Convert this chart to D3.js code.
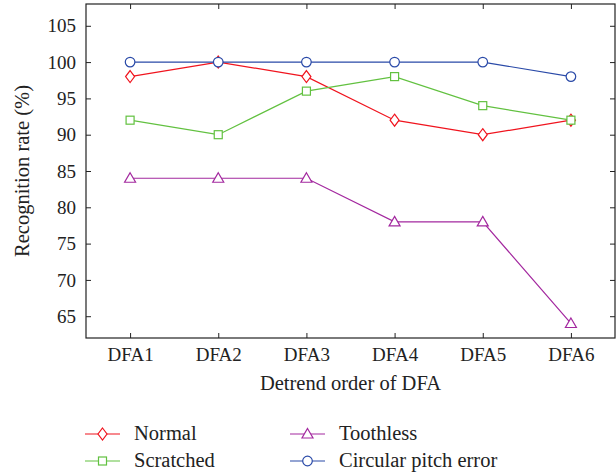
<!DOCTYPE html>
<html>
<head>
<meta charset="utf-8">
<script src="https://cdn.jsdelivr.net/npm/d3@7"></script>
<style>
  body { margin: 0; background: #fff; }
  text { font-family: "Liberation Serif", "DejaVu Serif", serif; fill: #222; }
</style>
</head>
<body>
<svg width="616" height="475"></svg>
<script>
var categories = ["DFA1", "DFA2", "DFA3", "DFA4", "DFA5", "DFA6"];
var normal     = [98, 100, 98, 92, 90, 92];
var scratched  = [92, 90, 96, 98, 94, 92];
var toothless  = [84, 84, 84, 78, 78, 64];
var circular   = [100, 100, 100, 100, 100, 98];
var yTicks     = [65, 70, 75, 80, 85, 90, 95, 100, 105];

var series = [
  {name: "Normal", values: normal, color: "#f0141e", marker: "diamond"},
  {name: "Scratched", values: scratched, color: "#62c140", marker: "square"},
  {name: "Toothless", values: toothless, color: "#a3289f", marker: "triangle"},
  {name: "Circular pitch error", values: circular, color: "#2a4aa8", marker: "circle"}
];

var svg = d3.select("svg");
var pLeft = 86, pRight = 615, pTop = 4, pBottom = 338;

var x = d3.scaleLinear().domain([0.5, 6.5]).range([pLeft, pRight]);
var y = d3.scaleLinear().domain([62, 108]).range([pBottom, pTop]);

// frame
svg.append("rect").attr("x", pLeft).attr("y", pTop)
  .attr("width", pRight - pLeft).attr("height", pBottom - pTop)
  .style("fill", "none").style("stroke", "#222").style("stroke-width", 1.2);

var idx = d3.range(1, categories.length + 1);

// inward ticks
var tl = 5;
svg.append("g").attr("transform", "translate(0," + pBottom + ")")
  .call(d3.axisBottom(x).tickValues(idx).tickSize(-tl).tickPadding(10)
    .tickFormat(function(d) { return categories[d - 1]; }))
  .call(function(g) { g.select(".domain").remove(); });
svg.append("g").attr("transform", "translate(0," + pTop + ")")
  .call(d3.axisTop(x).tickValues(idx).tickSize(-tl).tickFormat(""))
  .call(function(g) { g.select(".domain").remove(); });
svg.append("g").attr("transform", "translate(" + pLeft + ",0)")
  .call(d3.axisLeft(y).tickValues(yTicks).tickSize(-tl).tickPadding(10))
  .call(function(g) { g.select(".domain").remove(); });
svg.append("g").attr("transform", "translate(" + pRight + ",0)")
  .call(d3.axisRight(y).tickValues(yTicks).tickSize(-tl).tickFormat(""))
  .call(function(g) { g.select(".domain").remove(); });

svg.selectAll(".tick line").style("stroke", "#222");
svg.selectAll(".tick text").style("font-family", "Liberation Serif, serif")
  .style("font-size", "19px").style("fill", "#222");

// axis titles
svg.append("text").attr("x", (pLeft + pRight) / 2).attr("y", 390)
  .attr("text-anchor", "middle").style("font-size", "20.5px")
  .text("Detrend order of DFA");
svg.append("text").attr("transform", "translate(29," + ((pTop + pBottom) / 2) + ") rotate(-90)")
  .attr("text-anchor", "middle").style("font-size", "20.5px")
  .text("Recognition rate (%)");

function drawMarker(g, type, cx, cy, color) {
  var st = "fill:#fff;stroke:" + color + ";stroke-width:1.2px";
  if (type == "diamond") {
    g.append("path").attr("d", "M" + cx + "," + (cy - 6) + " L" + (cx + 4.5) + "," + cy +
      " L" + cx + "," + (cy + 6) + " L" + (cx - 4.5) + "," + cy + "Z").attr("style", st);
  } else if (type == "square") {
    g.append("rect").attr("x", cx - 4).attr("y", cy - 4).attr("width", 8).attr("height", 8).attr("style", st);
  } else if (type == "triangle") {
    g.append("path").attr("d", "M" + cx + "," + (cy - 5.5) + " L" + (cx + 5.5) + "," + (cy + 4) +
      " L" + (cx - 5.5) + "," + (cy + 4) + "Z").attr("style", st);
  } else {
    g.append("circle").attr("cx", cx).attr("cy", cy).attr("r", 4.8).attr("style", st);
  }
}

var line = d3.line().x(function(d, i) { return x(i + 1); }).y(function(d) { return y(d); });

series.forEach(function(s) {
  var g = svg.append("g");
  g.append("path").attr("d", line(s.values))
    .style("fill", "none").style("stroke", s.color).style("stroke-width", 1.2);
  s.values.forEach(function(v, i) {
    drawMarker(g, s.marker, x(i + 1), y(v), s.color);
  });
});

// legend
var legendPos = [[85, 434], [85, 461], [290, 434], [290, 461]];
series.forEach(function(s, i) {
  var lx = legendPos[i][0], ly = legendPos[i][1];
  var g = svg.append("g");
  g.append("line").attr("x1", lx).attr("x2", lx + 35).attr("y1", ly).attr("y2", ly)
    .style("stroke", s.color).style("stroke-width", 1.2);
  drawMarker(g, s.marker, lx + 17.5, ly, s.color);
  g.append("text").attr("x", lx + 49).attr("y", ly + 6).style("font-size", "20.5px").text(s.name);
});
</script>
</body>
</html>
